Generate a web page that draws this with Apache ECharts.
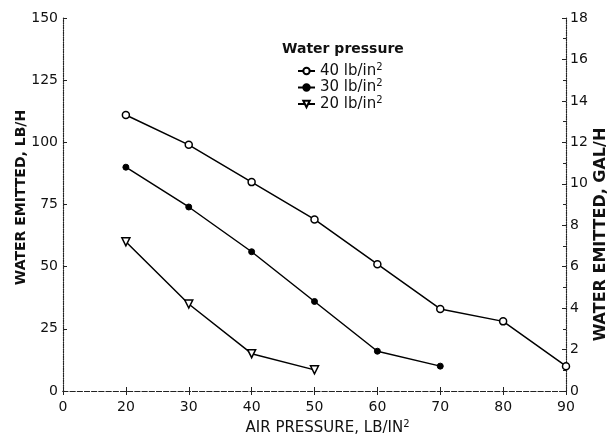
<!DOCTYPE html>
<html>
<head>
<meta charset="utf-8">
<script src="https://cdn.jsdelivr.net/npm/echarts@6/dist/echarts.min.js"></script>
<style>html,body{margin:0;padding:0;background:#fff;}#chart{width:609px;height:441px;}</style>
</head>
<body>
<div id="chart"></div>
<script>
// Air pressure (lb/in2)
const airPressure40 = [20, 30, 40, 50, 60, 70, 80, 90];
const airPressure30 = [20, 30, 40, 50, 60, 70];
const airPressure20 = [20, 30, 40, 50];
// Water emitted (lb/h)
const water40 = [111, 99, 84, 69, 51, 33, 28, 10];
const water30 = [90, 74, 56, 36, 16, 10];
const water20 = [60, 35, 15, 8.5];
const seriesNames = ['40 lb/in', '30 lb/in', '20 lb/in'];

const FONT = 'DejaVu Sans';
const chart = echarts.init(document.getElementById('chart'));
function pairs(xs, ys){ return xs.map((x,i)=>[x, ys[i]]); }
const lineStyle = {color:'#000', width:1.5};
chart.setOption({
  animation:false,
  backgroundColor:'#fff',
  grid:{left:63, right:43, top:18, bottom:50, containLabel:false, outerBoundsMode:'none'},
  graphic:[
    {type:'text', left:282, top:42, style:{text:'Water pressure', font:'bold 14px "DejaVu Sans"', fill:'#111'}}
  ],
  legend:{
    orient:'vertical', left:292, top:57, itemGap:0, itemWidth:17, itemHeight:8,
    data: seriesNames,
    formatter: n => n + '{sup|2}',
    textStyle:{fontFamily:FONT, fontSize:15, color:'#111', rich:{sup:{fontSize:10, verticalAlign:'top', padding:[0,0,8,0], fontFamily:FONT, color:'#111'}}}
  },
  xAxis:[{
    type:'value', min:10, max:90, interval:10, position:'bottom',
    name:'AIR PRESSURE, LB/IN{sup|2}', nameLocation:'middle', nameGap:28,
    nameTextStyle:{fontFamily:FONT, fontSize:15, color:'#111', padding:[0,0,0,26], rich:{sup:{fontSize:10, verticalAlign:'top', padding:[0,0,8,0], fontFamily:FONT, color:'#111'}}},
    axisLine:{show:true, lineStyle:{color:'#222', width:1.2, type:'dashed'}},
    axisTick:{show:true, inside:true, length:4, lineStyle:{color:'#222'}},
    axisLabel:{fontFamily:FONT, fontSize:14, color:'#111', margin:9, formatter: v => v===10 ? '0' : String(v)},
    splitLine:{show:false}
  },{
    type:'value', min:10, max:90, interval:10, position:'top',
    axisLine:{show:true, lineStyle:{color:'#222', width:1.2, type:'dashed'}},
    axisTick:{show:true, inside:true, length:4, lineStyle:{color:'#222'}},
    axisLabel:{show:false}, splitLine:{show:false}
  }],
  yAxis:[{
    type:'value', min:0, max:150, interval:25, position:'left',
    name:'WATER EMITTED, LB/H', nameLocation:'middle', nameGap:35, nameRotate:90, nameMoveOverlap:false,
    nameTextStyle:{fontFamily:FONT, fontSize:14, fontWeight:'bold', color:'#111', padding:[0,0,0,14]},
    axisLine:{show:true, lineStyle:{color:'#222', width:1.2, type:'dotted'}},
    axisTick:{show:true, inside:true, length:4, lineStyle:{color:'#222'}},
    axisLabel:{fontFamily:FONT, fontSize:14, color:'#111', margin:5},
    splitLine:{show:false}
  },{
    type:'value', min:0, max:18, interval:2, position:'right',
    name:'WATER EMITTED, GAL/H', nameLocation:'middle', nameGap:27, nameRotate:90, nameMoveOverlap:false,
    nameTextStyle:{fontFamily:FONT, fontSize:16, fontWeight:'bold', color:'#111', padding:[0,60,0,0]},
    axisLine:{show:true, lineStyle:{color:'#222', width:1.2, type:'dotted'}},
    axisTick:{show:true, inside:true, length:4, lineStyle:{color:'#222'}},
    minorTick:{show:true, splitNumber:2, length:3, lineStyle:{color:'#222'}},
    axisLabel:{fontFamily:FONT, fontSize:14, color:'#111', margin:4},
    splitLine:{show:false}
  }],
  series:[
    {name:seriesNames[0], type:'line', data:pairs(airPressure40, water40), symbol:'circle', symbolSize:7,
     itemStyle:{color:'#fff', borderColor:'#000', borderWidth:1.5}, lineStyle:lineStyle},
    {name:seriesNames[1], type:'line', data:pairs(airPressure30, water30), symbol:'circle', symbolSize:6,
     itemStyle:{color:'#000', borderColor:'#000', borderWidth:1}, lineStyle:lineStyle},
    {name:seriesNames[2], type:'line', data:pairs(airPressure20, water20), symbol:'triangle', symbolSize:8, symbolRotate:180,
     itemStyle:{color:'#fff', borderColor:'#000', borderWidth:1.5}, lineStyle:lineStyle}
  ]
});
</script>
</body>
</html>
